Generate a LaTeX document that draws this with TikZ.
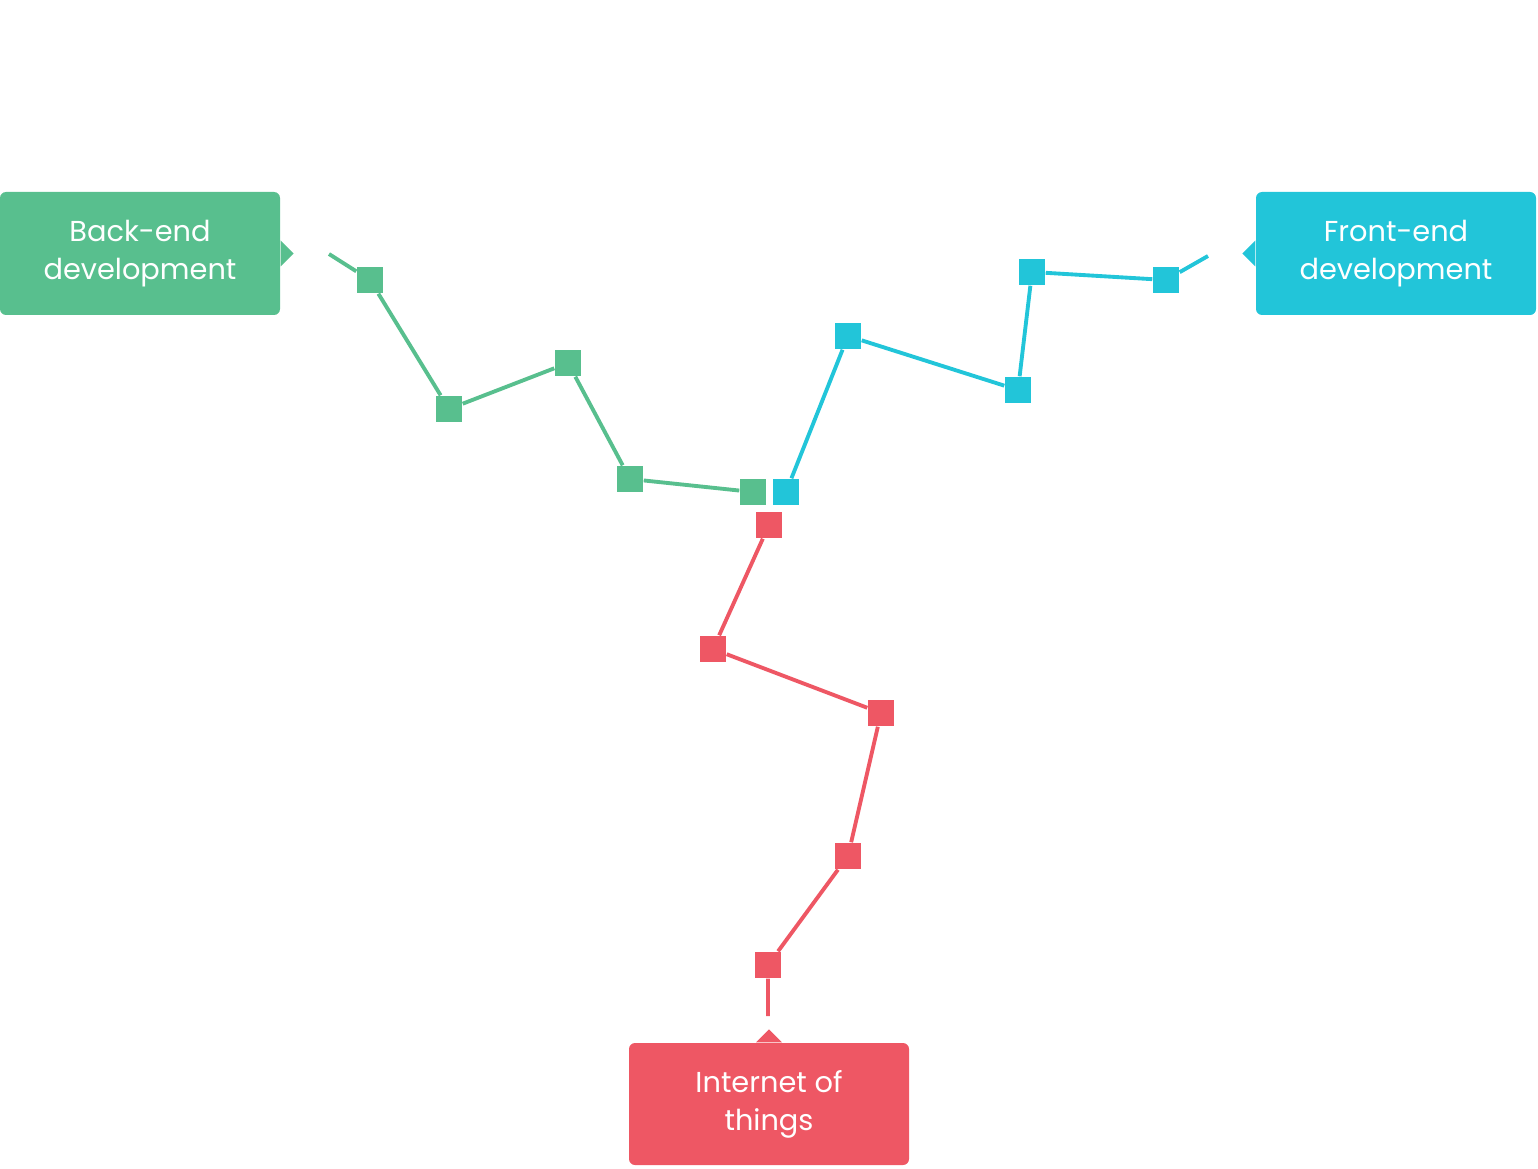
\documentclass[tikz,border=0pt]{standalone}
\usepackage{fontspec}
\setmainfont{Poppins}
\usepackage{tikz}
\usepackage{xcolor}
\definecolor{BackGreen}{HTML}{58BF8E}
\definecolor{FrontBlue}{HTML}{22C5D9}
\definecolor{IotRed}{HTML}{EE5764}

\begin{document}
\begin{tikzpicture}[
    sq/.style={rectangle, minimum size=0.26cm, inner sep=0pt},
    link/.style={line width=1.1pt},
    tag/.style={rectangle, rounded corners=0.06cm, minimum width=2.8cm,
      minimum height=1.23cm, align=center, text=white,
      font=\fontsize{8.2}{10.8}\selectfont}]
    \useasboundingbox (0,0) rectangle (15.38,11.68);
    \def\tip{0.13}

    % labels
    \node[tag, fill=BackGreen] (back) at (1.40,9.145) {Back-end\\development};
    \fill[BackGreen] ([yshift=\tip cm]back.east) -- ++(\tip,-\tip) -- ++(-\tip,-\tip) -- cycle;
    \node[tag, fill=FrontBlue] (front) at (13.96,9.145) {Front-end\\development};
    \fill[FrontBlue] ([yshift=\tip cm]front.west) -- ++(-\tip,-\tip) -- ++(\tip,-\tip) -- cycle;
    \node[tag, fill=IotRed, minimum height=1.22cm] (iot) at (7.69,0.64) {Internet of\\things};
    \fill[IotRed] ([xshift=-\tip cm]iot.north) -- ++(\tip,\tip) -- ++(\tip,-\tip) -- cycle;

    % back-end path
    \coordinate (b0) at (3.29,9.14);
    \node[sq, fill=BackGreen] (b1) at (3.70,8.88) {};
    \node[sq, fill=BackGreen] (b2) at (4.49,7.59) {};
    \node[sq, fill=BackGreen] (b3) at (5.68,8.05) {};
    \node[sq, fill=BackGreen] (b4) at (6.30,6.89) {};
    \node[sq, fill=BackGreen] (b5) at (7.53,6.76) {};
    \draw[link, BackGreen] (b0) -- (b1) -- (b2) -- (b3) -- (b4) -- (b5);

    % front-end path
    \node[sq, fill=FrontBlue] (f1) at (7.86,6.76) {};
    \node[sq, fill=FrontBlue] (f2) at (8.48,8.32) {};
    \node[sq, fill=FrontBlue] (f3) at (10.18,7.78) {};
    \node[sq, fill=FrontBlue] (f4) at (10.32,8.96) {};
    \node[sq, fill=FrontBlue] (f5) at (11.66,8.88) {};
    \coordinate (f0) at (12.08,9.12);
    \draw[link, FrontBlue] (f1) -- (f2) -- (f3) -- (f4) -- (f5) -- (f0);

    % iot path
    \node[sq, fill=IotRed] (i1) at (7.69,6.43) {};
    \node[sq, fill=IotRed] (i2) at (7.13,5.19) {};
    \node[sq, fill=IotRed] (i3) at (8.81,4.55) {};
    \node[sq, fill=IotRed] (i4) at (8.48,3.12) {};
    \node[sq, fill=IotRed] (i5) at (7.68,2.03) {};
    \coordinate (i0) at (7.68,1.52);
    \draw[link, IotRed] (i1) -- (i2) -- (i3) -- (i4) -- (i5) -- (i0);
\end{tikzpicture}
\end{document}
